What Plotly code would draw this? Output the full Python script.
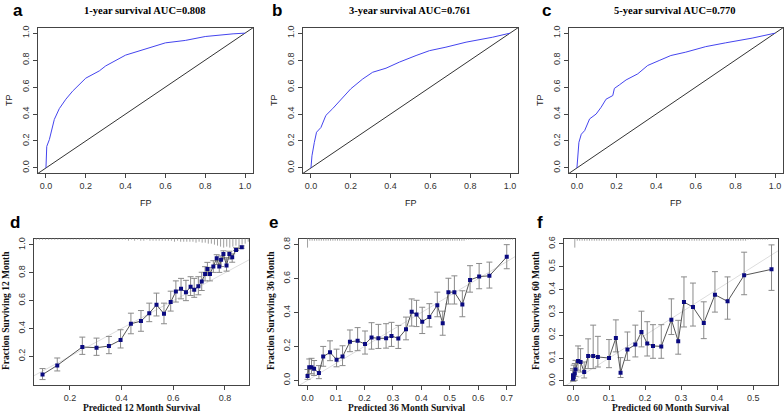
import numpy as np
import plotly.graph_objects as go

W, H = 784, 415

# ---------------- ROC data ----------------
roc1_fp = [0.0, 0.004, 0.017, 0.042, 0.067, 0.10, 0.134, 0.20, 0.268, 0.30, 0.40, 0.47, 0.60, 0.70, 0.80, 0.94, 1.0]
roc1_tp = [0.0, 0.16, 0.21, 0.36, 0.44, 0.51, 0.57, 0.666, 0.72, 0.757, 0.837, 0.87, 0.928, 0.946, 0.975, 0.995, 1.0]

roc3_fp = [0.0, 0.005, 0.017, 0.028, 0.05, 0.075, 0.109, 0.15, 0.20, 0.26, 0.31, 0.377, 0.444, 0.528, 0.595, 0.678, 0.779, 0.913, 1.0]
roc3_tp = [0.0, 0.09, 0.19, 0.265, 0.30, 0.39, 0.44, 0.51, 0.587, 0.66, 0.71, 0.74, 0.785, 0.834, 0.87, 0.896, 0.933, 0.97, 1.0]

roc5_fp = [0.0, 0.005, 0.01, 0.022, 0.039, 0.064, 0.097, 0.122, 0.147, 0.181, 0.189, 0.214, 0.248, 0.307, 0.357, 0.415, 0.474, 0.549, 0.65, 0.75, 0.884, 1.0]
roc5_tp = [0.0, 0.09, 0.19, 0.25, 0.277, 0.364, 0.40, 0.45, 0.51, 0.537, 0.59, 0.616, 0.653, 0.698, 0.76, 0.797, 0.834, 0.859, 0.90, 0.928, 0.963, 1.0]

roc_titles = ["1-year survival AUC=0.808", "3-year survival AUC=0.761", "5-year survival AUC=0.770"]

# ---------------- Calibration data ----------------
cal12_x = [0.094, 0.151, 0.248, 0.303, 0.351, 0.396, 0.436, 0.475, 0.507, 0.535, 0.564, 0.59, 0.61, 0.63, 0.649, 0.667,
           0.681, 0.697, 0.71, 0.723, 0.732, 0.742, 0.755, 0.768, 0.778, 0.785, 0.794, 0.806, 0.817, 0.828, 0.843, 0.865]
cal12_y = [0.069, 0.135, 0.267, 0.262, 0.274, 0.317, 0.434, 0.453, 0.51, 0.57, 0.506, 0.59, 0.666, 0.685, 0.66, 0.70,
           0.678, 0.704, 0.737, 0.792, 0.828, 0.792, 0.845, 0.904, 0.845, 0.893, 0.936, 0.852, 0.936, 0.912, 0.964, 0.983]
cal12_hi = [0.112, 0.188, 0.338, 0.331, 0.343, 0.391, 0.510, 0.529, 0.582, 0.654, 0.582, 0.668, 0.742, 0.76, 0.746, 0.772,
            0.76, 0.772, 0.804, 0.844, 0.875, 0.839, 0.887, 0.93, 0.887, 0.921, 0.958, 0.909, 0.955, 0.936, 0.98, 0.993]
cal12_lo = [0.033, 0.095, 0.214, 0.207, 0.219, 0.26, 0.362, 0.38, 0.449, 0.49, 0.434, 0.525, 0.59, 0.613, 0.6, 0.637,
            0.624, 0.642, 0.673, 0.742, 0.78, 0.742, 0.803, 0.86, 0.803, 0.845, 0.899, 0.812, 0.899, 0.876, 0.96, 0.977]

cal36_x = [0.0, 0.006, 0.014, 0.023, 0.04, 0.055, 0.079, 0.102, 0.123, 0.149, 0.176, 0.202, 0.225, 0.249, 0.276, 0.295,
           0.319, 0.346, 0.366, 0.383, 0.403, 0.428, 0.456, 0.475, 0.495, 0.516, 0.544, 0.571, 0.603, 0.639, 0.70]
cal36_y = [0.025, 0.078, 0.078, 0.068, 0.043, 0.14, 0.165, 0.122, 0.14, 0.227, 0.233, 0.214, 0.252, 0.248, 0.248, 0.262,
           0.247, 0.301, 0.404, 0.388, 0.346, 0.373, 0.443, 0.336, 0.52, 0.52, 0.447, 0.592, 0.612, 0.616, 0.728]
cal36_hi = [0.064, 0.126, 0.130, 0.117, 0.087, 0.20, 0.233, 0.184, 0.204, 0.297, 0.311, 0.291, 0.340, 0.330, 0.334, 0.342,
            0.324, 0.373, 0.480, 0.472, 0.431, 0.452, 0.520, 0.408, 0.602, 0.616, 0.528, 0.676, 0.689, 0.697, 0.800]
cal36_lo = [0.006, 0.039, 0.039, 0.029, 0.010, 0.083, 0.116, 0.08, 0.087, 0.169, 0.175, 0.155, 0.184, 0.188, 0.190, 0.200,
            0.188, 0.239, 0.320, 0.317, 0.276, 0.315, 0.375, 0.266, 0.450, 0.450, 0.375, 0.520, 0.540, 0.544, 0.658]

cal60_x = [0.0, 0.0, 0.002, 0.005, 0.007, 0.014, 0.021, 0.031, 0.042, 0.056, 0.069, 0.10, 0.119, 0.132, 0.151, 0.173,
           0.19, 0.206, 0.222, 0.245, 0.273, 0.292, 0.308, 0.333, 0.363, 0.394, 0.429, 0.475, 0.551]
cal60_y = [0.025, 0.01, 0.017, 0.032, 0.05, 0.087, 0.083, 0.039, 0.109, 0.109, 0.105, 0.1, 0.188, 0.036, 0.137, 0.159,
           0.214, 0.164, 0.153, 0.151, 0.268, 0.174, 0.345, 0.323, 0.253, 0.377, 0.348, 0.462, 0.488]
cal60_hi = [0.054, 0.047, 0.069, 0.076, 0.09, 0.153, 0.141, 0.083, 0.184, 0.244, 0.195, 0.181, 0.267, 0.102, 0.214, 0.244,
            0.305, 0.259, 0.246, 0.246, 0.359, 0.265, 0.455, 0.428, 0.346, 0.478, 0.455, 0.563, 0.595]
cal60_lo = [0.0, 0.0, 0.0, 0.003, 0.02, 0.047, 0.039, 0.013, 0.054, 0.054, 0.061, 0.058, 0.127, 0.015, 0.09, 0.105,
            0.149, 0.109, 0.099, 0.099, 0.203, 0.117, 0.236, 0.24, 0.185, 0.301, 0.27, 0.377, 0.396]

cal_months = ["12", "36", "60"]

# rug (distribution of predicted values): start, end, relative spike heights
rug12_start, rug12_end = 0.07, 0.89
rug12_h = [1, 1, 1, 1, 1, 1, 1, 1, 1, 1, 1, 1, 1, 1, 1, 1, 1, 1, 1, 1, 1, 1, 1, 1, 1, 1, 1, 1, 1, 1,
           2, 1, 2, 1, 2, 2, 1, 2, 2, 2, 2, 2, 2, 2, 2, 3, 2, 3, 3, 3, 3, 3, 4, 3, 4, 4, 5, 5, 6, 7,
           8, 9, 8, 9, 8, 7, 9, 6, 5, 3]
rug36_start, rug36_end = 0.0, 0.72
rug36_h = [9, 2, 2, 2, 2, 2, 2, 2, 2, 2, 2, 2, 2, 2, 2, 2, 2, 2, 2, 2, 2, 2, 2, 2, 2, 2, 2, 2, 2, 2,
           2, 2, 2, 2, 2, 2, 2, 2, 2, 2, 2, 2, 2, 2, 2, 2, 2, 2, 2, 2, 2, 2, 2, 2, 2, 2, 2, 2, 2, 2,
           2, 2, 2, 2, 2, 2, 2, 2, 2, 1, 1, 1, 1, 1, 1, 1, 1, 1, 1, 1, 1, 1, 1, 1, 1, 1, 1, 1, 1, 1]
rug60_start, rug60_end = 0.005, 0.54
rug60_h = [9, 2, 2, 2, 2, 2, 2, 2, 2, 2, 2, 2, 2, 2, 2, 2, 2, 2, 2, 2, 2, 2, 2, 2, 2, 2, 2, 2, 2, 2,
           2, 2, 2, 2, 2, 2, 2, 2, 2, 2, 2, 2, 2, 2, 2, 2, 2, 2, 2, 2, 2, 2, 2, 2, 2, 2, 2, 2, 2, 2,
           2, 2, 2, 2, 2, 2, 2, 2, 2, 2, 2, 1, 1, 1, 1, 1, 1, 1, 1, 1]

# ---------------- Layout geometry (pixels) ----------------
def dom_x(x0, x1):
    return [x0 / W, x1 / W]

def dom_y(y0, y1):
    return [1 - y1 / H, 1 - y0 / H]

top_boxes = [(38, 253), (303, 518), (569, 783)]
top_y = (25, 172)
bot_boxes = [(34, 249), (299, 515), (564, 778)]
bot_y = (238, 386)

fig = go.Figure()

AXCOL = "#444444"
TICKFONT = dict(family="Liberation Sans, Arial", size=9, color="#333333")

def axis_common():
    return dict(showline=True, linecolor=AXCOL, linewidth=1, mirror=True,
                ticks="outside", ticklen=4, tickcolor=AXCOL, tickwidth=1,
                showgrid=False, zeroline=False, tickfont=TICKFONT)

rocs = [(roc1_fp, roc1_tp), (roc3_fp, roc3_tp), (roc5_fp, roc5_tp)]
for i, ((fp, tp), (bx0, bx1)) in enumerate(zip(rocs, top_boxes)):
    n = i + 1
    xa = "x" if n == 1 else f"x{n}"
    ya = "y" if n == 1 else f"y{n}"
    fig.add_trace(go.Scatter(x=[-0.1, 1.1], y=[-0.1, 1.1], mode="lines",
                             line=dict(color="#333333", width=1), xaxis=xa, yaxis=ya, showlegend=False))
    fig.add_trace(go.Scatter(x=fp, y=tp, mode="lines", line=dict(color="#4444EE", width=1),
                             xaxis=xa, yaxis=ya, showlegend=False))
    key = "" if n == 1 else str(n)
    fig.layout[f"xaxis{key}"] = dict(domain=dom_x(bx0, bx1), range=[-0.04, 1.04], anchor=ya,
                                     tickvals=[0, 0.2, 0.4, 0.6, 0.8, 1.0],
                                     ticktext=["0.0", "0.2", "0.4", "0.6", "0.8", "1.0"], **axis_common())
    fig.layout[f"yaxis{key}"] = dict(domain=dom_y(*top_y), range=[-0.04, 1.04], anchor=xa,
                                     tickvals=[0, 0.2, 0.4, 0.6, 0.8, 1.0],
                                     ticktext=["0.0", "0.2", "0.4", "0.6", "0.8", "1.0"],
                                     tickangle=-90, **axis_common())

cals = [
    (cal12_x, cal12_y, cal12_hi, cal12_lo, [0.061, 0.893], [-0.008, 1.045], [0.2, 0.4, 0.6, 0.8], [0.2, 0.4, 0.6, 0.8, 1.0],
     (rug12_start, rug12_end, rug12_h)),
    (cal36_x, cal36_y, cal36_hi, cal36_lo, [-0.03, 0.729], [-0.029, 0.835], [0, 0.1, 0.2, 0.3, 0.4, 0.5, 0.6, 0.7], [0, 0.2, 0.4, 0.6, 0.8],
     (rug36_start, rug36_end, rug36_h)),
    (cal60_x, cal60_y, cal60_hi, cal60_lo, [-0.025, 0.569], [-0.019, 0.622], [0, 0.1, 0.2, 0.3, 0.4, 0.5], [0, 0.1, 0.2, 0.3, 0.4, 0.5, 0.6],
     (rug60_start, rug60_end, rug60_h)),
]

shapes = []
for i, (cx, cy, chi, clo, xr, yr, xt, yt, rug) in enumerate(cals):
    n = i + 4
    xa, ya = f"x{n}", f"y{n}"
    bx0, bx1 = bot_boxes[i]
    # ideal line
    fig.add_trace(go.Scatter(x=[-0.1, 1.2], y=[-0.1, 1.2], mode="lines",
                             line=dict(color="#DDDDDD", width=1), xaxis=xa, yaxis=ya, showlegend=False))
    ep = [h - y for h, y in zip(chi, cy)]
    em = [y - l for y, l in zip(cy, clo)]
    fig.add_trace(go.Scatter(x=cx, y=cy, mode="lines+markers",
                             line=dict(color="#555555", width=1),
                             marker=dict(symbol="square", size=4, color="#0A0A80"),
                             error_y=dict(type="data", symmetric=False, array=ep, arrayminus=em,
                                          color="#8A8A8A", thickness=1, width=3),
                             xaxis=xa, yaxis=ya, showlegend=False))
    fig.layout[f"xaxis{n}"] = dict(domain=dom_x(bx0, bx1), range=xr, anchor=ya,
                                   tickvals=xt, ticktext=[f"{v:.1f}" for v in xt], **axis_common())
    fig.layout[f"yaxis{n}"] = dict(domain=dom_y(*bot_y), range=yr, anchor=xa,
                                   tickvals=yt, ticktext=[f"{v:.1f}" for v in yt],
                                   tickangle=-90, **axis_common())
    rs, re_, rh = rug
    rx = np.linspace(rs, re_, len(rh))
    plot_h = bot_y[1] - bot_y[0]
    for xv, hv in zip(rx, rh):
        shapes.append(dict(type="line", xref=xa, yref=f"{ya} domain", x0=xv, x1=xv,
                           y0=1, y1=1 - hv / plot_h, line=dict(color="#A0A0A0", width=1)))

fig.update_layout(shapes=shapes)

ann = []
LET = dict(family="Liberation Sans, Arial", size=17, color="black")
TIT = dict(family="Liberation Serif, Times New Roman", size=10.5, color="black")
SANS = dict(family="Liberation Sans, Arial", size=9, color="#222222")
SERB = dict(family="Liberation Serif, Times New Roman", size=9.5, color="#111111")

def add_text(x, y, text, font, angle=0):
    ann.append(dict(x=x / W, y=1 - y / H, xref="paper", yref="paper", text=text, showarrow=False,
                    font=font, textangle=angle, xanchor="center", yanchor="middle"))

for letter, (lx, ly) in zip("abcdef", [(18, 8), (277, 8), (546, 8), (15, 222), (273, 222), (540, 222)]):
    add_text(lx, ly, f"<b>{letter}</b>", LET)

for t, cxp in zip(roc_titles, [145, 410, 675]):
    add_text(cxp, 8, f"<b>{t}</b>", TIT)

for (bx0, bx1) in top_boxes:
    add_text((bx0 + bx1) / 2, 202, "FP", SANS)
    add_text(bx0 - 29, 98, "TP", SANS, angle=-90)

for m, (bx0, bx1) in zip(cal_months, bot_boxes):
    add_text((bx0 + bx1) / 2, 409, f"<b>Predicted {m} Month Survival</b>", SERB)
    add_text(bx0 - 28, 311, f"<b>Fraction Surviving {m} Month</b>", SERB, angle=-90)

fig.update_layout(annotations=ann, width=W, height=H, margin=dict(l=0, r=0, t=0, b=0),
                  paper_bgcolor="white", plot_bgcolor="white", showlegend=False)

fig.write_html("out.html", config={"displayModeBar": False},
               post_script="document.body.style.margin='0px';document.body.style.overflow='hidden';")
